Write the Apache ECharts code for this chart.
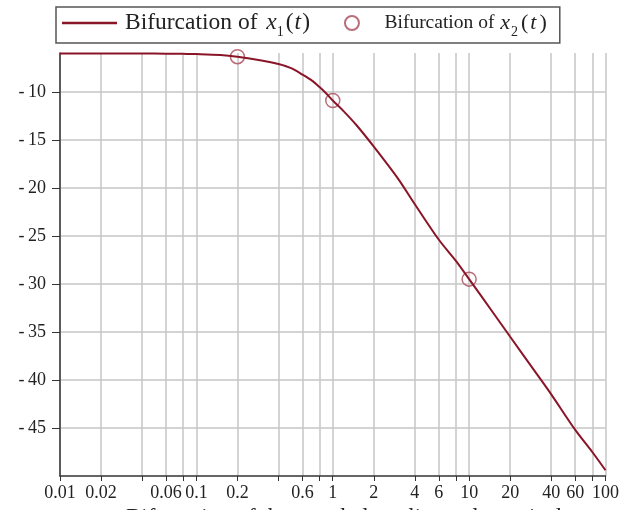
<!DOCTYPE html>
<html>
<head>
<meta charset="utf-8">
<script src="https://cdn.jsdelivr.net/npm/echarts@6/dist/echarts.min.js"></script>
<style>
html, body { margin: 0; padding: 0; background: #fff; }
#chart { width: 622px; height: 510px; }
</style>
</head>
<body>
<div id="chart"></div>
<script>
// values
var tValues = [0.01, 0.02, 0.04, 0.06, 0.08, 0.1, 0.15, 0.2, 0.3, 0.4, 0.5, 0.6, 0.7, 0.8, 0.9, 1,
    1.2, 1.5, 2, 3, 4, 6, 8, 10, 15, 20, 30, 40, 60, 80, 100]
var x1Values = [-6.0, -6.0, -6.01, -6.02, -6.04, -6.06, -6.15, -6.33, -6.72, -7.1, -7.55, -8.2, -8.8, -9.5, -10.2, -10.9,
    -12.0, -13.5, -15.7, -19.0, -21.7, -25.4, -27.6, -29.5, -33.0, -35.5, -39.0, -41.5, -45.2, -47.5, -49.4]

var x2Times = [0.2, 1, 10]
var x2Values = [-6.33, -10.9, -29.5]

var xTicks = [0.01, 0.02, 0.04, 0.06, 0.08, 0.1, 0.2, 0.4, 0.6, 0.8, 1, 2, 4, 6, 8, 10, 20, 40, 60, 80, 100]
var xLabels = [0.01, 0.02, 0.06, 0.1, 0.2, 0.6, 1, 2, 4, 6, 10, 20, 40, 60, 100]
var yTicks = [-45, -40, -35, -30, -25, -20, -15, -10]

var lineColor = "#8b1528"
var circleColor = "#a94a58"
var serif = "Liberation Serif"

var chart = echarts.init(document.querySelector("#chart"))

// rich text pieces for the legend (subscripts sit on the bottom of a tall line)
function tok(size, extra) {
    return Object.assign({ fontSize: size, fontFamily: serif, color: "#222", lineHeight: 32 }, extra)
}
var legendRich = {
    p: tok(23.5, { padding: [0, 0, 0, 3] }),
    a: tok(23.5),
    i: tok(23.5, { fontStyle: "italic", padding: [0, 0, 0, 3] }),
    t: tok(23.5, { fontStyle: "italic", padding: [0, 1, 0, 1] }),
    s: tok(14, { lineHeight: 14, verticalAlign: "bottom", padding: [0, 2, 0, 0] }),
    b: tok(19.5),
    j: tok(22, { fontStyle: "italic", padding: [0, 0, 0, 1] }),
    u: tok(14, { lineHeight: 14, verticalAlign: "bottom", padding: [0, 3, 0, 1] }),
    c: tok(22),
    k: tok(22, { fontStyle: "italic", padding: [0, 3, 0, 2] })
}

var option = {
    animation: false,
    backgroundColor: "#fff",
    textStyle: { fontFamily: serif },
    grid: { left: 60, right: 15, top: 53, bottom: 34 },
    legend: {
        left: 56,
        top: 7,
        padding: [4, 13, 4, 6],
        itemWidth: 55,
        itemHeight: 14,
        itemGap: 34,
        borderColor: "#555",
        borderWidth: 1.5,
        data: [
            { name: "Bifurcation of x1(t)", icon: "path://M0,0L55,0L55,2.5L0,2.5Z" },
            { name: "Bifurcation of x2(t)" }
        ],
        formatter: function (name) {
            if (name === "Bifurcation of x1(t)") {
                return "{p|Bifurcation of }{i|x}{s|1}{a|(}{t|t}{a|)}"
            }
            return "{b|Bifurcation of }{j|x}{u|2}{c|(}{k|t}{c|)}"
        },
        textStyle: { color: "#222", fontFamily: serif, rich: legendRich }
    },
    xAxis: {
        type: "log",
        logBase: 10,
        min: 0.01,
        max: 100,
        axisLine: { lineStyle: { color: "#333", width: 1.5 } },
        axisTick: { customValues: xTicks, length: 5, lineStyle: { color: "#333" } },
        axisLabel: {
            customValues: xLabels,
            color: "#222",
            fontFamily: serif,
            fontSize: 18,
            margin: 8,
            formatter: function (v) { return String(+(+v).toPrecision(6)) }
        },
        splitLine: { show: true, lineStyle: { color: "#c6c6c6", width: 1.5 } }
    },
    yAxis: {
        type: "value",
        min: -50,
        max: -5.95,
        axisLine: { show: true, lineStyle: { color: "#333", width: 1.5 } },
        axisTick: { show: true, customValues: yTicks, length: 8, lineStyle: { color: "#333" } },
        axisLabel: {
            customValues: yTicks,
            color: "#222",
            fontFamily: serif,
            fontSize: 18,
            margin: 14,
            formatter: function (v) { return "-\u2009" + Math.abs(v) }
        },
        splitLine: { show: true, lineStyle: { color: "#c6c6c6", width: 1.5 } }
    },
    graphic: [{
        type: "text",
        left: 126,
        top: 506,
        style: {
            text: "Bifurcation of the coupled nonlinear dynamical system",
            font: "23px 'Liberation Serif'",
            fill: "#222"
        }
    }],
    series: [{
        name: "Bifurcation of x1(t)",
        type: "line",
        symbol: "none",
        smooth: 0.3,
        data: tValues.map((t, index) => [t, x1Values[index]]),
        lineStyle: { color: lineColor, width: 2 },
        itemStyle: { color: lineColor }
    }, {
        name: "Bifurcation of x2(t)",
        type: "scatter",
        symbol: "circle",
        symbolSize: 14,
        data: x2Times.map((t, index) => [t, x2Values[index]]),
        itemStyle: { color: "rgba(255,255,255,0)", borderColor: circleColor, borderWidth: 1.5 }
    }]
}

chart.setOption(option)
</script>
</body>
</html>
